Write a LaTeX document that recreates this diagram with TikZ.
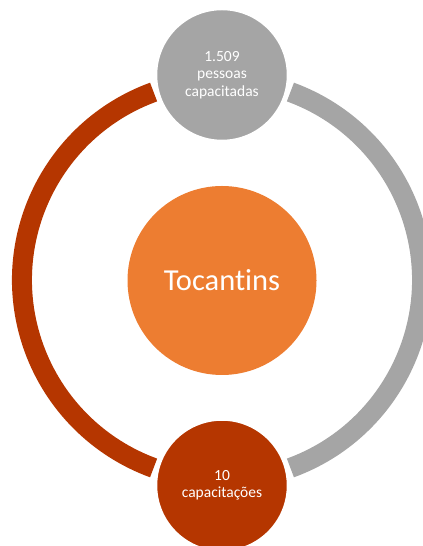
\documentclass[tikz,border=0pt]{standalone}
\usepackage{fontspec}
\setmainfont{Carlito}[Ligatures=NoCommon]
\definecolor{ringgray}{HTML}{A5A5A5}
\definecolor{ringred}{HTML}{B53600}
\definecolor{hub}{HTML}{ED7D31}
\begin{document}
\begin{tikzpicture}[x=1bp,y=1bp,
  band/.style={line width=20bp},
  satellite/.style={circle, draw=white, line width=2.5bp, minimum size=132bp, inner sep=0pt,
    align=center, text=white, font=\fontsize{15.5bp}{17.5bp}\selectfont},
  hubnode/.style={circle, fill=hub, minimum size=189bp, inner sep=0pt, text=white,
    font=\fontsize{30.5bp}{36bp}\selectfont}]
\useasboundingbox (0,0) rectangle (422,546);
\coordinate (ring) at (222,266);
\draw[band, ringred] (ring) ++(110:200bp) arc[start angle=110, end angle=250, radius=200bp];
\draw[band, ringgray] (ring) ++(-70:200bp) arc[start angle=-70, end angle=70, radius=200bp];
\node[hubnode] (hubc) at (222,265.5) {Tocantins};
\node[satellite, fill=ringgray] (top) at (222,471) {1.509\\pessoas\\capacitadas};
\node[satellite, fill=ringred] (bottom) at (222,60.5) {10\\capacitações};
\end{tikzpicture}
\end{document}
